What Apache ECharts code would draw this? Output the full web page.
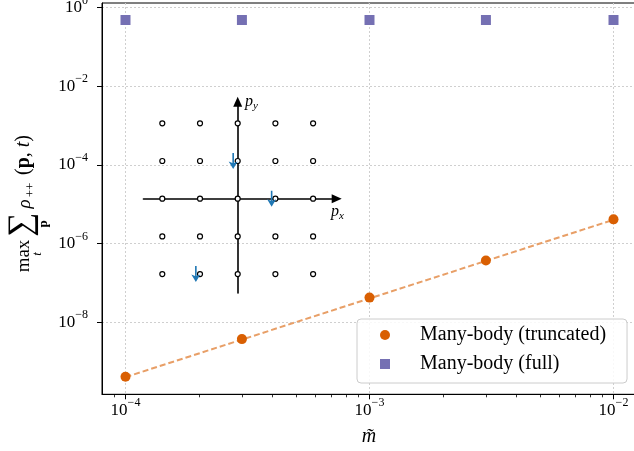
<!DOCTYPE html>
<html><head><meta charset="utf-8">
<script src="https://cdn.jsdelivr.net/npm/echarts@6/dist/echarts.min.js"></script>
<style>html,body{margin:0;padding:0;background:#fff}#c{width:634px;height:451px}</style>
</head><body><div id="c"></div>
<script>
// ---- data ----
const masses = [1e-4, 3e-4, 1e-3, 3e-3, 1e-2];
const truncatedValues = [4.1e-10, 3.7e-9, 4.2e-8, 3.7e-7, 4.1e-6];
const fullValues = [0.48, 0.48, 0.48, 0.48, 0.48];
const fitMasses = [1e-4, 1e-2];
const fitValues = [4.0e-10, 4.0e-6];
const seriesNames = ['Many-body (truncated)', 'Many-body (full)'];
const xMajorTicks = [1e-4, 1e-3, 1e-2];
const xMinorTicks = [9e-5, 2e-4, 3e-4, 4e-4, 5e-4, 6e-4, 7e-4, 8e-4, 9e-4,
                     2e-3, 3e-3, 4e-3, 5e-3, 6e-3, 7e-3, 8e-3, 9e-3];
const yMajorTicks = [1e0, 1e-2, 1e-4, 1e-6, 1e-8];
// inset lattice diagram
const latticeX = [-2, -1, 0, 1, 2];
const latticeY = [-2, -1, 0, 1, 2];
const spinX = [-0.12, 0.9, -1.11];
const spinY = [1, 0, -2];

// ---- styling / layout ----
const SERIF = '"Liberation Serif", "DejaVu Serif", serif';
const xLogMin = -4.0963, xLogMax = -1.9037;
const yLogMin = -9.835, yLogMax = 0.114;

function powLabel(v) {
  const e = Math.round(Math.log10(v));
  return '{b|10}{s|' + (e < 0 ? '\u2212' : '') + Math.abs(e) + '}';
}
const labelRich = {
  b: { fontFamily: SERIF, fontSize: 17, lineHeight: 26, color: '#000' },
  s: { fontFamily: SERIF, fontSize: 12, lineHeight: 10, verticalAlign: 'top', color: '#000' }
};
const gridLine = { show: true, lineStyle: { color: '#cfcfcf', width: 1, type: [2, 2] } };

const lattice = [];
latticeX.forEach(x => latticeY.forEach(y => lattice.push([x, y])));
const spins = spinX.map((x, i) => [x, spinY[i]]);

function t(text, u, v, size, extra) {
  return { type: 'text', x: u, y: v,
    style: Object.assign({ text: text, fontFamily: SERIF, fontSize: size, fill: '#000', align: 'center', verticalAlign: 'middle' }, extra || {}) };
}

const chart = echarts.init(document.getElementById('c'), null, { renderer: 'canvas' });
chart.setOption({
  animation: false,
  backgroundColor: '#fff',
  grid: [
    { left: 102, top: 3, width: 535, height: 391.3, show: true, borderColor: '#000', borderWidth: 1,
      backgroundColor: 'transparent', outerBoundsMode: 'none', containLabel: false },
    { left: 143.45, top: 101.7, width: 193.25, height: 191.25, outerBoundsMode: 'none', containLabel: false }
  ],
  xAxis: [
    { type: 'log', gridIndex: 0, min: Math.pow(10, xLogMin), max: Math.pow(10, xLogMax),
      axisLine: { show: true, lineStyle: { color: '#000', width: 1 } },
      axisTick: { show: true, length: 5, lineStyle: { color: '#000', width: 1 }, customValues: xMajorTicks },
      axisLabel: { show: true, margin: 3, customValues: xMajorTicks, formatter: powLabel, rich: labelRich },
      splitLine: gridLine, minorTick: { show: false } },
    { type: 'log', gridIndex: 0, min: Math.pow(10, xLogMin), max: Math.pow(10, xLogMax), position: 'bottom',
      axisLine: { show: false },
      axisTick: { show: true, length: 3, lineStyle: { color: '#000', width: 0.8 }, customValues: xMinorTicks },
      axisLabel: { show: false }, splitLine: { show: false } },
    { type: 'value', gridIndex: 1, min: -2.5, max: 2.626,
      axisLine: { show: true, onZero: true, symbol: ['none', 'triangle'], symbolSize: [9, 10], lineStyle: { color: '#000', width: 1.6 } },
      axisTick: { show: false }, axisLabel: { show: false }, splitLine: { show: false } }
  ],
  yAxis: [
    { type: 'log', gridIndex: 0, min: Math.pow(10, yLogMin), max: Math.pow(10, yLogMax),
      axisLine: { show: true, lineStyle: { color: '#000', width: 1 } },
      axisTick: { show: true, length: 5, lineStyle: { color: '#000', width: 1 }, customValues: yMajorTicks },
      axisLabel: { show: true, margin: 14, customValues: yMajorTicks, formatter: powLabel, rich: labelRich },
      splitLine: gridLine },
    { type: 'value', gridIndex: 1, min: -2.5, max: 2.573,
      axisLine: { show: true, onZero: true, symbol: ['none', 'triangle'], symbolSize: [9, 10], lineStyle: { color: '#000', width: 1.6 } },
      axisTick: { show: false }, axisLabel: { show: false }, splitLine: { show: false } }
  ],
  legend: {
    data: seriesNames,
    orient: 'vertical', left: 357, top: 319,
    padding: [6, 21, 9, 23], itemGap: 9, itemWidth: 10, itemHeight: 10,
    borderColor: '#cccccc', borderWidth: 1, borderRadius: 4, backgroundColor: 'rgba(255,255,255,0.85)',
    textStyle: { fontFamily: SERIF, fontSize: 20, lineHeight: 20, color: '#000', padding: [0, 0, 0, 25] },
    z: 10
  },
  series: [
    { name: 'fit', type: 'line', xAxisIndex: 0, yAxisIndex: 0, silent: true, showSymbol: false, symbol: 'none',
      data: fitMasses.map((m, i) => [m, fitValues[i]]),
      lineStyle: { color: '#e89f67', width: 2, type: [6, 3] }, z: 2 },
    { name: seriesNames[0], type: 'scatter', xAxisIndex: 0, yAxisIndex: 0, symbol: 'circle', symbolSize: 10,
      itemStyle: { color: '#d95f02', opacity: 1 }, data: masses.map((m, i) => [m, truncatedValues[i]]), z: 3 },
    { name: seriesNames[1], type: 'scatter', xAxisIndex: 0, yAxisIndex: 0, symbol: 'rect', symbolSize: 10,
      itemStyle: { color: '#7570b3', opacity: 1 }, data: masses.map((m, i) => [m, fullValues[i]]), z: 3 },
    { name: 'lattice', type: 'scatter', xAxisIndex: 2, yAxisIndex: 1, symbol: 'circle', symbolSize: 5, silent: true,
      itemStyle: { color: '#fff', borderColor: '#000', borderWidth: 1.2, opacity: 1 }, data: lattice, z: 4 },
    { name: 'spins', type: 'scatter', xAxisIndex: 2, yAxisIndex: 1, silent: true,
      symbol: 'path://M3.7,0 L5.3,0 L5.3,10 L9,8.5 L4.5,16 L0,8.5 L3.7,10 Z', symbolSize: [9, 16],
      itemStyle: { color: '#1f77b4', opacity: 1 }, data: spins, z: 5 }
  ],
  graphic: [
    { type: 'group', x: 30, y: 270, rotation: Math.PI / 2, z: 10,
      children: [
        t('max', 14, -6, 19),
        t('t', 16, 8, 13, { fontStyle: 'italic' }),
        t('\u2211', 45, -8, 34),
        t('p', 46, 14, 13, { fontWeight: 'bold' }),
        t('\u03c1', 66, -5, 19, { fontStyle: 'italic' }),
        t('++', 80, 1, 13),
        { type: 'text', x: 115, y: -6,
          style: { text: '{n|(}{b|p}{n|, }{i|t}{n|)}', align: 'center', verticalAlign: 'middle',
            rich: { n: { fontFamily: SERIF, fontSize: 20, fill: '#000' },
                    b: { fontFamily: SERIF, fontSize: 20, fontWeight: 'bold', fill: '#000' },
                    i: { fontFamily: SERIF, fontSize: 20, fontStyle: 'italic', fill: '#000' } } } }
      ] },
    { type: 'text', x: 369, y: 437, z: 10,
      style: { text: 'm\u0303', fontFamily: SERIF, fontSize: 20, fontStyle: 'italic', fill: '#000', align: 'center', verticalAlign: 'middle' } },
    { type: 'text', x: 245, y: 102, z: 10,
      style: { text: '{p|p}{s|y}', align: 'left', verticalAlign: 'middle',
        rich: { p: { fontFamily: SERIF, fontSize: 16, fontStyle: 'italic', lineHeight: 20, fill: '#000' },
                s: { fontFamily: SERIF, fontSize: 11, fontStyle: 'italic', lineHeight: 12, verticalAlign: 'bottom', fill: '#000' } } } },
    { type: 'text', x: 331, y: 212, z: 10,
      style: { text: '{p|p}{s|x}', align: 'left', verticalAlign: 'middle',
        rich: { p: { fontFamily: SERIF, fontSize: 16, fontStyle: 'italic', lineHeight: 20, fill: '#000' },
                s: { fontFamily: SERIF, fontSize: 11, fontStyle: 'italic', lineHeight: 12, verticalAlign: 'bottom', fill: '#000' } } } }
  ]
});
</script></body></html>
